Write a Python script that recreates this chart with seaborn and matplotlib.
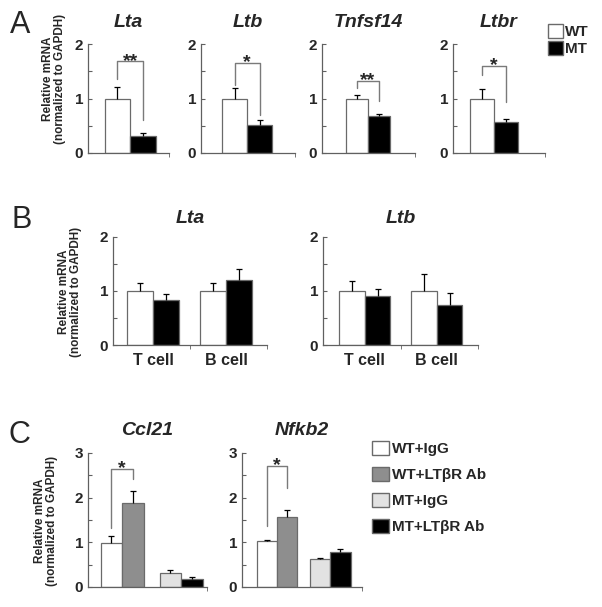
import numpy as np
import pandas as pd
import seaborn as sns
import matplotlib.pyplot as plt
from matplotlib.patches import Patch
from matplotlib.ticker import MultipleLocator

# ---- data ----
genes_a = ["Lta", "Ltb", "Tnfsf14", "Ltbr"]
wt_a = [1.0, 1.0, 1.0, 1.0]
wt_a_err = [0.21, 0.2, 0.06, 0.17]
mt_a = [0.32, 0.52, 0.67, 0.56]
mt_a_err = [0.05, 0.08, 0.05, 0.07]
stars_a = ["**", "*", "**", "*"]
brk_top_a = [1.68, 1.66, 1.32, 1.6]
brk_left_a = [1.36, 1.25, 1.2, 1.44]
brk_right_a = [0.61, 0.70, 0.96, 0.94]

cells_b = ["T cell", "B cell"]
genes_b = ["Lta", "Ltb"]
wt_b = [[1.0, 1.0], [1.0, 1.0]]
wt_b_err = [[0.15, 0.15], [0.18, 0.31]]
mt_b = [[0.83, 1.2], [0.91, 0.74]]
mt_b_err = [[0.12, 0.2], [0.12, 0.23]]

genes_c = ["Ccl21", "Nfkb2"]
groups_c = ["WT+IgG", "WT+LTβR Ab", "MT+IgG", "MT+LTβR Ab"]
geno_c = ["WT", "WT", "MT", "MT"]
treat_c = ["IgG", "LTβR Ab", "IgG", "LTβR Ab"]
vals_c = [[0.99, 1.87, 0.32, 0.19], [1.02, 1.57, 0.62, 0.78]]
errs_c = [[0.16, 0.28, 0.07, 0.03], [0.04, 0.15, 0.04, 0.08]]
brk_top_c = [2.64, 2.70]
brk_left_c = [1.31, 1.37]
brk_right_c = [2.42, 2.22]

sns.set_style("ticks")
plt.rcParams["font.family"] = ["Liberation Sans", "DejaVu Sans"]
plt.rcParams["font.weight"] = "bold"

W, H = 602, 607
fig = plt.figure(figsize=(W / 100, H / 100), dpi=100)

EDGE = "#6a6a6a"
AX = "#606060"


def add_ax(x0, x1, y0, y1):
    return fig.add_axes([x0 / W, 1 - y1 / H, (x1 - x0) / W, (y1 - y0) / H])


def style_ax(ax, ymax, xlim, title, pad):
    sns.despine(ax=ax)
    for s in ["left", "bottom"]:
        ax.spines[s].set_color(AX)
        ax.spines[s].set_linewidth(0.9)
    ax.set_ylim(0, ymax)
    ax.set_xlim(*xlim)
    ax.yaxis.set_major_locator(MultipleLocator(1))
    ax.yaxis.set_minor_locator(MultipleLocator(0.5))
    ax.tick_params(axis="y", which="both", direction="in", length=3, color=AX,
                   width=0.8, pad=3.5, labelsize=11)
    ax.set_ylabel("")
    ax.set_xlabel("")
    ax.set_title(title, fontsize=14, fontweight="bold", fontstyle="italic", pad=pad)


def err_bars(ax, xs, ys, es):
    eb = ax.errorbar(xs, ys, yerr=[np.zeros(len(es)), es], fmt="none",
                     ecolor="black", elinewidth=0.9, capsize=2.5, capthick=0.9, zorder=1)
    for cl in eb[1]:
        if np.allclose(cl.get_ydata(), ys):
            cl.set_visible(False)


def bracket(ax, xl, xr, top, lb, rb, star):
    ax.plot([xl, xl, xr, xr], [lb, top, top, rb], color="#7a7a7a", lw=1.0)
    ax.annotate(star, ((xl + xr) / 2, top), xytext=(0, -3), textcoords="offset points",
                ha="center", va="baseline", fontsize=14, fontweight="bold")


# ---- panel A ----
box_a = [(88, 169, (-0.66, 0.61)), (201, 295, (-0.74, 0.77)),
         (322, 415, (-0.82, 0.84)), (453, 545, (-0.68, 0.85))]
for i, g in enumerate(genes_a):
    x0, x1, xl = box_a[i]
    ax = add_ax(x0, x1, 44, 153)
    df = pd.DataFrame({"gene": [g, g], "group": ["WT", "MT"],
                       "value": [wt_a[i], mt_a[i]]})
    sns.barplot(data=df, x="gene", y="value", hue="group", hue_order=["WT", "MT"],
                palette={"WT": "white", "MT": "black"}, width=0.8, errorbar=None,
                edgecolor=EDGE, linewidth=0.9, legend=False, ax=ax)
    xs = [-0.2, 0.2]
    err_bars(ax, xs, [wt_a[i], mt_a[i]], [wt_a_err[i], mt_a_err[i]])
    bracket(ax, xs[0], xs[1], brk_top_a[i], brk_left_a[i], brk_right_a[i], stars_a[i])
    style_ax(ax, 2, xl, g, 12)
    ax.set_xticks([])
    ax.set_xticks([xl[1]], minor=True)
    ax.tick_params(axis="x", which="minor", direction="out", length=3, color=AX)

fig.legend(handles=[Patch(facecolor="white", edgecolor=EDGE, label="WT"),
                    Patch(facecolor="black", edgecolor=EDGE, label="MT")],
           loc="upper left", bbox_to_anchor=(548 / W, 1 - 24 / H), frameon=False,
           handlelength=0.95, handleheight=1.05, labelspacing=0.08, handletextpad=0.15,
           borderaxespad=0, borderpad=0, prop={"size": 11, "weight": "bold"})

# ---- panel B ----
box_b = [(113, 267, (-0.55, 1.56)), (323, 478, (-0.58, 1.57))]
for i, g in enumerate(genes_b):
    x0, x1, xl = box_b[i]
    ax = add_ax(x0, x1, 237, 345)
    df = pd.DataFrame({"cell": cells_b * 2, "group": ["WT"] * 2 + ["MT"] * 2,
                       "value": wt_b[i] + mt_b[i]})
    sns.barplot(data=df, x="cell", y="value", hue="group", order=cells_b,
                hue_order=["WT", "MT"], palette={"WT": "white", "MT": "black"},
                width=0.71, errorbar=None, edgecolor=EDGE, linewidth=0.9,
                legend=False, ax=ax)
    off = 0.71 / 4
    xs = [k - off for k in range(2)] + [k + off for k in range(2)]
    err_bars(ax, xs, wt_b[i] + mt_b[i], wt_b_err[i] + mt_b_err[i])
    style_ax(ax, 2, xl, g, 10)
    ax.set_xticks(range(len(cells_b)))
    ax.set_xticklabels(cells_b, fontsize=11.5, fontweight="bold")
    ax.tick_params(axis="x", which="major", length=0, pad=6)
    ax.set_xticks([0.5, xl[1]], minor=True)
    ax.tick_params(axis="x", which="minor", direction="out", length=3, color=AX)

# ---- panel C ----
box_c = [(88, 207, (-0.58, 1.44), 0.73), (242, 362, (-0.66, 1.6), 0.77)]
pal_c = {"WT": {"IgG": "white", "LTβR Ab": "#8e8e8e"},
         "MT": {"IgG": "#e2e2e2", "LTβR Ab": "black"}}
col_c = dict(zip(groups_c, ["white", "#8e8e8e", "#e2e2e2", "black"]))
for i, g in enumerate(genes_c):
    x0, x1, xl, w = box_c[i]
    ax = add_ax(x0, x1, 453, 587)
    df = pd.DataFrame({"geno": geno_c, "treat": treat_c, "value": vals_c[i]})
    for gt in ["WT", "MT"]:
        sns.barplot(data=df[df["geno"] == gt], x="geno", y="value", hue="treat",
                    order=["WT", "MT"], hue_order=["IgG", "LTβR Ab"],
                    palette=pal_c[gt], width=w, errorbar=None, edgecolor=EDGE,
                    linewidth=0.9, legend=False, ax=ax)
    off = w / 4
    xs = [0 - off, 0 + off, 1 - off, 1 + off]
    err_bars(ax, xs, vals_c[i], errs_c[i])
    bracket(ax, xs[0], xs[1], brk_top_c[i], brk_left_c[i], brk_right_c[i], "*")
    style_ax(ax, 3, xl, g, 13)
    ax.set_xticks([])
    ax.set_xticks([xl[1]], minor=True)
    ax.tick_params(axis="x", which="minor", direction="out", length=3, color=AX)

fig.legend(handles=[Patch(facecolor=col_c[gr], edgecolor=EDGE, label=gr) for gr in groups_c],
           loc="upper left", bbox_to_anchor=(372 / W, 1 - 441 / H), frameon=False,
           handlelength=1.1, handleheight=1.0, labelspacing=0.72, handletextpad=0.2,
           borderaxespad=0, borderpad=0, prop={"size": 11, "weight": "bold"})

# ---- shared labels ----
ylab = "Relative mRNA\n(normalized to GAPDH)"
for x, y in [(54, 79), (70, 292), (46, 521)]:
    fig.text(x / W, 1 - y / H, ylab, rotation=90, ha="center", va="center",
             fontsize=8.5, fontweight="bold", linespacing=1.05)
for lab, x, y in [("A", 10, 33), ("B", 12, 228), ("C", 9, 443)]:
    fig.text(x / W, 1 - y / H, lab, fontsize=22, fontweight="normal",
             ha="left", va="baseline")

fig.savefig("out.png", dpi=100)
